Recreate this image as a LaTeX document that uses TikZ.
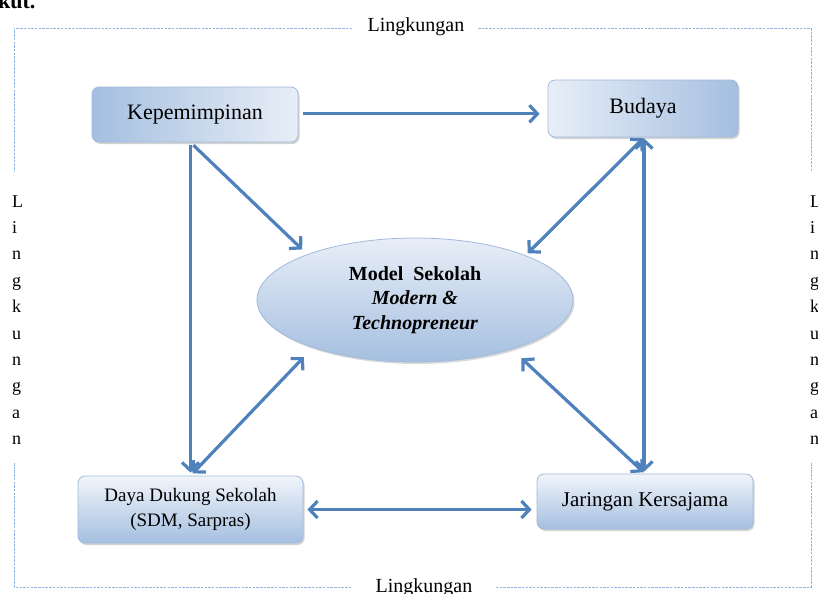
\documentclass[tikz,border=0pt]{standalone}
\usepackage{fontspec}
\setmainfont{Liberation Serif}
\usetikzlibrary{arrows.meta,shapes.geometric,shadows}
\definecolor{arrowblue}{RGB}{79,129,189}
\definecolor{edgeblue}{RGB}{142,180,227}
\definecolor{boxline}{RGB}{160,186,220}
\definecolor{boxdark}{RGB}{165,191,224}
\definecolor{boxlight}{RGB}{232,238,247}
\begin{document}
\begin{tikzpicture}[scale=0.35146]
    \tikzstyle{every node}+=[inner sep=0pt]
    \tikzstyle{block}=[rectangle, rounded corners=7pt, draw=boxline, line width=0.8pt, drop shadow={shadow xshift=1.5pt, shadow yshift=-2pt, opacity=0.35}]
    \tikzstyle{link}=[draw=arrowblue, line width=3.2pt, -{Straight Barb[length=8pt,width=17pt]}]
    \tikzstyle{both}=[link, {Straight Barb[length=8pt,width=17pt]}-{Straight Barb[length=8pt,width=17pt]}]
    \tikzstyle{border}=[draw=edgeblue, line width=0.9pt, dash pattern=on 2.5pt off 1.2pt]
    \tikzstyle{side}=[align=left, font=\fontsize{18}{26.4}\selectfont]
    \useasboundingbox (0,0) rectangle (81.8,-59.3);
    % boxes
    \node [block, left color=boxdark, right color=boxlight, minimum width=206pt, minimum height=55pt, font=\fontsize{22}{26}\selectfont] (lead) at (19.5,-11.45) {Kepemimpinan};
    \node [block, left color=boxlight, right color=boxdark, minimum width=190pt, minimum height=57pt, font=\fontsize{22}{26}\selectfont] (culture) at (64.3,-10.85) {Budaya};
    \node [block, top color=boxlight!60!white, bottom color=boxdark, minimum width=225pt, minimum height=67pt, align=center, font=\fontsize{19}{25}\selectfont] (support) at (19.05,-50.95) {Daya Dukung Sekolah\\(SDM,\ Sarpras)};
    \node [block, top color=boxlight!60!white, bottom color=boxdark, minimum width=216pt, minimum height=55pt, font=\fontsize{21}{25}\selectfont] (network) at (64.5,-50.15) {Jaringan Kersajama};
    \node [ellipse, draw=boxline, line width=0.8pt, top color=boxlight, bottom color=boxdark, minimum width=316pt, minimum height=124pt, align=center, font=\fontsize{20}{24.5}\selectfont\bfseries, drop shadow={shadow xshift=1.5pt, shadow yshift=-2pt, opacity=0.3}] (model) at (41.5,-30.0) {Model\ \ Sekolah\\\textit{Modern \&}\\\textit{Technopreneur}};
    % arrows
    \draw [link, shorten <=5pt, shorten >=8pt] ([yshift=2pt]lead.east) -- ([yshift=2pt]lead.east -| culture.west);
    \draw [link, shorten <=4pt, shorten >=7pt] (support.north |- lead.south) -- (model.157);
    \draw [link, shorten <=3pt, shorten >=3pt] (support.north |- lead.south) -- (support.north);
    \draw [both, shorten <=3pt, shorten >=13pt] (support.north) -- (model.205);
    \draw [both, shorten <=1pt, shorten >=3pt] ([xshift=3pt]culture.south) -- (model.22);
    \draw [both, shorten <=1pt, shorten >=2pt] ([xshift=3pt]culture.south) -- ([xshift=3pt]culture.south |- network.north);
    \draw [both, shorten <=2pt, shorten >=13pt] (network.north) -- (model.333);
    \draw [both, shorten <=4pt, shorten >=5pt] (support.east) -- (support.east -| network.west);
    % environment
    \node [font=\fontsize{20}{24}\selectfont, anchor=base] (envtop) at (41.6,-3.1) {Lingkungan};
    \node [font=\fontsize{20}{24}\selectfont, anchor=base] (envbottom) at (42.4,-59.2) {Lingkungan};
    \node [side, anchor=west] (envleft) at (1.2,-32.0) {L\\i\\n\\g\\k\\u\\n\\g\\a\\n};
    \node [side, anchor=west] (envright) at (81.0,-32.0) {L\\i\\n\\g\\k\\u\\n\\g\\a\\n};
    \node [font=\fontsize{22}{26}\selectfont\bfseries, anchor=base west] (prev) at (-0.2,-0.8) {kut.};
    \draw [border] (35.2,-2.8) -- (1.4,-2.8) -- (1.4,-17.2);
    \draw [border] (47.8,-2.8) -- (81.1,-2.8) -- (81.1,-17.2);
    \draw [border] (1.4,-46.3) -- (1.4,-58.7) -- (35.2,-58.7);
    \draw [border] (81.1,-46.3) -- (81.1,-58.7) -- (49.5,-58.7);
\end{tikzpicture}
\end{document}
